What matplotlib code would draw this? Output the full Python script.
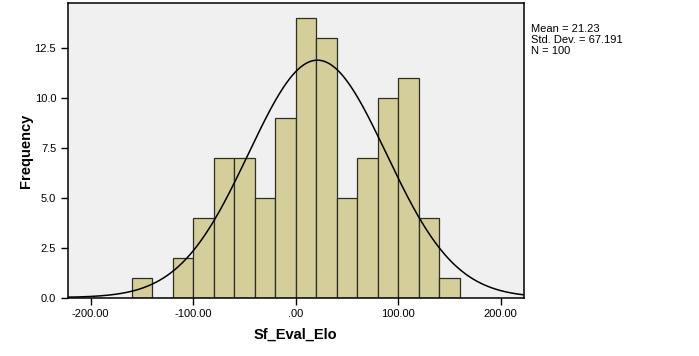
import numpy as np
import matplotlib.pyplot as plt

plt.rcParams['font.family'] = ['Liberation Sans', 'DejaVu Sans']

bin_edges = [-160, -140, -120, -100, -80, -60, -40, -20, 0, 20, 40, 60, 80, 100, 120, 140, 160]
counts = [1, 0, 2, 4, 7, 7, 5, 9, 14, 13, 5, 7, 10, 11, 4, 1]
mean = 21.23
std = 67.191
n = 100
x_ticks = [-200, -100, 0, 100, 200]
x_tick_labels = ['-200.00', '-100.00', '.00', '100.00', '200.00']
y_ticks = [0.0, 2.5, 5.0, 7.5, 10.0, 12.5]

fig = plt.figure(figsize=(6.99, 3.56), dpi=100)
ax = fig.add_axes([0.0973, 0.1643, 0.6519, 0.8264])
ax.set_facecolor('#F0F0F0')

edges = np.array(bin_edges)
widths = np.diff(edges)
ax.bar(edges[:-1], counts, width=widths, align='edge', color='#D3CE9A',
       edgecolor='#2E2E22', linewidth=0.9, zorder=2)

# fitted normal curve scaled to counts
xs = np.linspace(-225, 225, 500)
bw = widths[0]
ys = n * bw * np.exp(-0.5 * ((xs - mean) / std) ** 2) / (std * np.sqrt(2 * np.pi))
ax.plot(xs, ys, color='black', linewidth=1.1, zorder=3)

ax.set_xlim(-222, 222.4)
ax.set_ylim(0, 14.72)
ax.set_xticks(x_ticks)
ax.set_xticklabels(x_tick_labels)
ax.set_yticks(y_ticks)
ax.set_yticklabels([f'{v:.1f}' for v in y_ticks])
ax.tick_params(labelsize=8, length=5, width=1, color='black', labelcolor='black')
for s in ax.spines.values():
    s.set_linewidth(1.1)
    s.set_color('black')

ax.set_ylabel('Frequency', fontsize=10.5, fontweight='bold', labelpad=1)
ax.set_xlabel('Sf_Eval_Elo', fontsize=10.5, fontweight='bold', labelpad=6)

fig.text(531 / 699, 1 - 24 / 356, f'Mean = {mean}\nStd. Dev. = {std}\nN = {n}',
         fontsize=8, va='top', ha='left', linespacing=1.1)

plt.savefig('out.png', dpi=100)
